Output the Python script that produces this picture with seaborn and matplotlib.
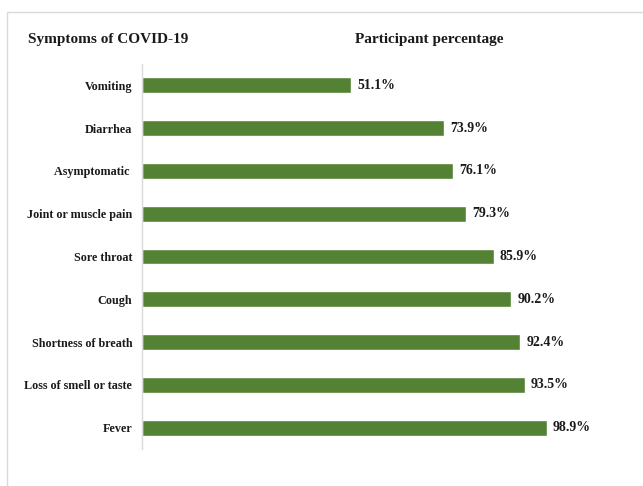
import matplotlib
matplotlib.use("Agg")
import matplotlib.pyplot as plt
import matplotlib.patches as mpatches
import seaborn as sns
import pandas as pd

symptoms = ["Vomiting", "Diarrhea", "Asymptomatic ", "Joint or muscle pain",
            "Sore throat", "Cough", "Shortness of breath",
            "Loss of smell or taste", "Fever"]
percentages = [51.1, 73.9, 76.1, 79.3, 85.9, 90.2, 92.4, 93.5, 98.9]
value_labels = ["51.1%", "73.9%", "76.1%", "79.3%", "85.9%", "90.2%",
                "92.4%", "93.5%", "98.9%"]

sns.set_theme(style="white")
plt.rcParams["font.family"] = ["Liberation Serif", "DejaVu Serif"]

df = pd.DataFrame({"symptom": symptoms, "pct": percentages})

fig = plt.figure(figsize=(6.43, 4.86), dpi=100)
ax = fig.add_axes([142 / 643, 37 / 486, 478 / 643, 385 / 486])

sns.barplot(data=df, x="pct", y="symptom", orient="h", color="#548235",
            saturation=1, width=0.37, ax=ax)

ax.set_xlim(0, 478 / 4.092)
ax.set_xlabel("")
ax.set_ylabel("")
ax.set_xticks([])
ax.tick_params(axis="y", length=0, pad=7)
for lbl in ax.get_yticklabels():
    lbl.set_fontweight("bold")
    lbl.set_fontsize(8.7)
    lbl.set_color("#1a1a1a")

for s in ["top", "right", "bottom"]:
    ax.spines[s].set_visible(False)
ax.spines["left"].set_color("#d9d9d9")
ax.spines["left"].set_linewidth(1.0)

for i, (v, t) in enumerate(zip(percentages, value_labels)):
    ax.text(v + 1.5, i, t, va="center", ha="left", fontsize=10,
            fontweight="bold", color="#1a1a1a")

fig.text(28 / 643, 1 - 40 / 486, "Symptoms of COVID-19", ha="left", va="center",
         fontsize=11, fontweight="bold", color="#1a1a1a")
fig.text(355 / 643, 1 - 40 / 486, "Participant percentage", ha="left", va="center",
         fontsize=11, fontweight="bold", color="#1a1a1a")

# light frame around the chart area
frame = mpatches.Rectangle((7 / 643, -0.1), 1.2, 1 - 12 / 486 + 0.1,
                           transform=fig.transFigure, fill=False,
                           edgecolor="#d9d9d9", linewidth=1.0, clip_on=False)
fig.patches.append(frame)

fig.savefig("out.png", dpi=100)
